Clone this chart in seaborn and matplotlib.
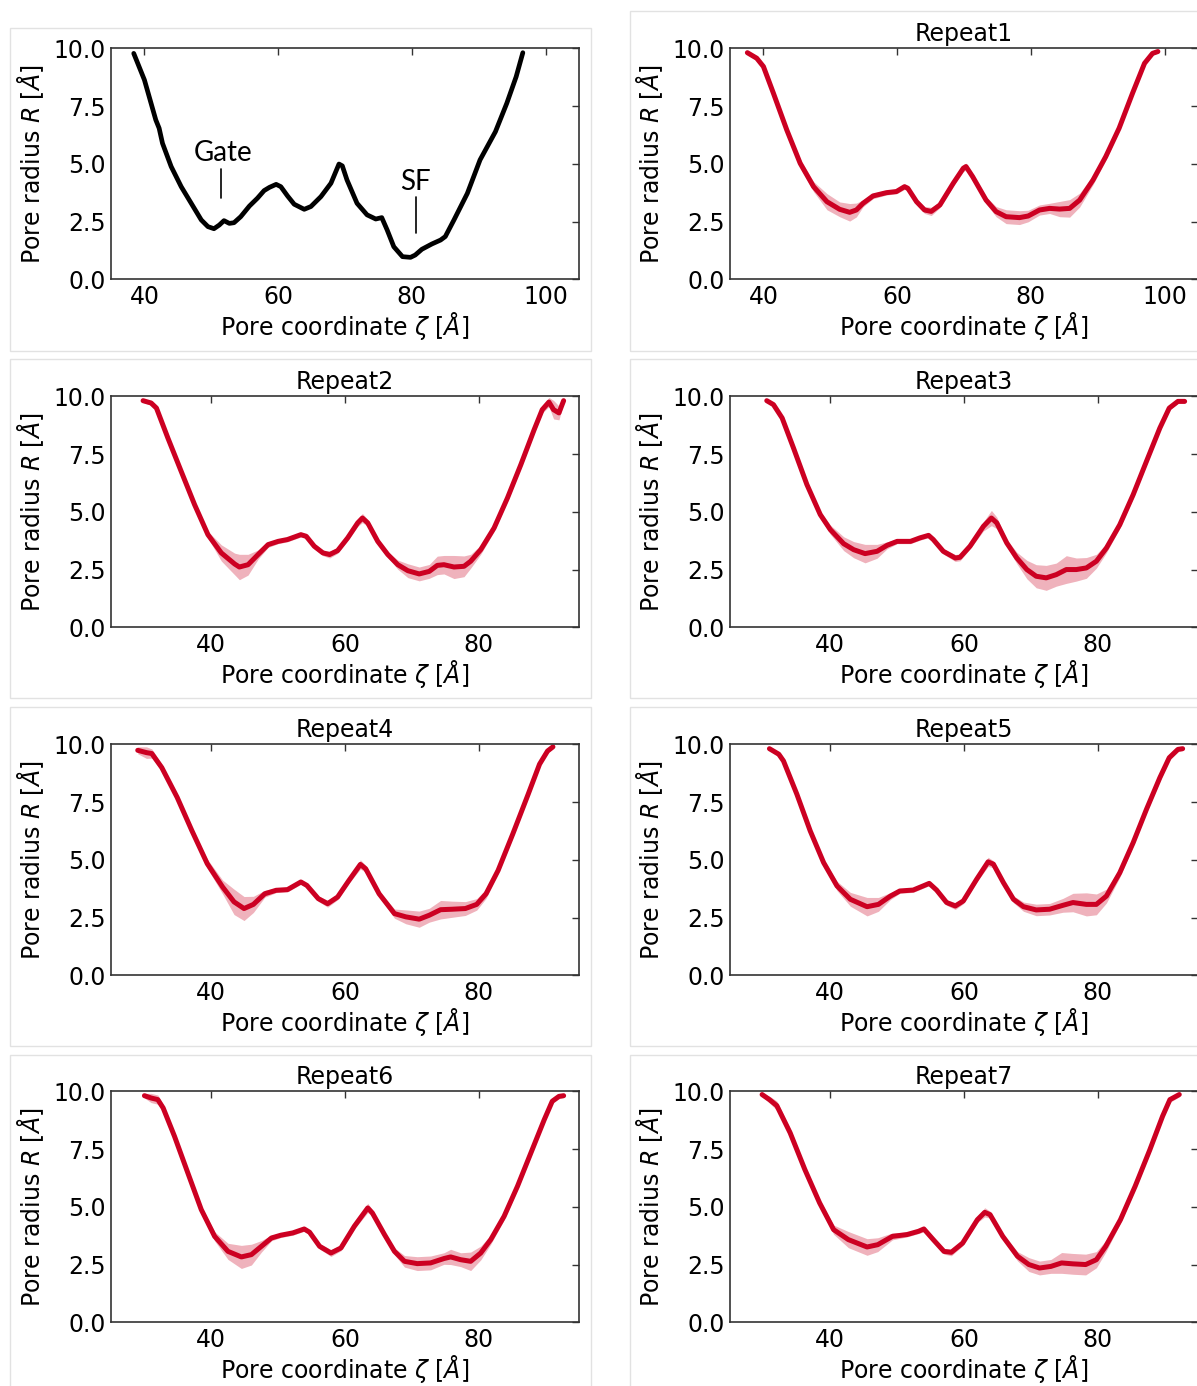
import numpy as np
import matplotlib
matplotlib.use("Agg")
import matplotlib.pyplot as plt
from matplotlib.patches import Rectangle
import seaborn as sns

# --- reference pore profile (black) ---
ref_z = [38.4, 40.0, 41.7, 42.2, 42.7, 44.0, 45.5, 47.0, 48.5, 49.5,
         50.4, 51.2, 51.9, 52.7, 53.4, 54.4, 55.7, 56.9, 57.9, 58.7,
         59.7, 60.4, 61.4, 62.4, 63.9, 64.9, 66.4, 67.9, 69.1, 69.6,
         70.3, 71.8, 73.3, 74.6, 75.5, 76.3, 77.3, 78.6, 79.8, 80.5,
         81.5, 83.0, 84.3, 85.0, 86.3, 88.3, 90.2, 92.5, 94.2, 95.6,
         96.6]
ref_r = [9.78, 8.63, 6.90, 6.54, 5.89, 4.88, 4.01, 3.29, 2.57, 2.28,
         2.19, 2.35, 2.54, 2.42, 2.45, 2.71, 3.17, 3.51, 3.84, 3.98,
         4.11, 4.01, 3.61, 3.25, 3.03, 3.15, 3.58, 4.16, 4.99, 4.91,
         4.30, 3.29, 2.79, 2.61, 2.67, 2.14, 1.41, 0.98, 0.95, 1.05,
         1.30, 1.53, 1.70, 1.85, 2.57, 3.72, 5.17, 6.39, 7.62, 8.77,
         9.81]

# --- repeats: mean radius and spread ---
rep1_z = [37.6, 39.0, 40.0, 41.5, 43.5, 45.5, 47.5, 49.5, 51.4, 52.9,
          53.9, 54.9, 56.4, 58.4, 59.9, 61.1, 61.6, 62.9, 64.1, 65.1,
          66.4, 68.4, 69.9, 70.3, 71.3, 73.3, 74.8, 76.3, 78.3, 79.6,
          81.3, 82.8, 84.3, 85.8, 87.3, 89.3, 91.2, 93.2, 95.2, 97.0,
          98.2, 99.0]
rep1_r = [9.81, 9.57, 9.21, 8.05, 6.46, 5.02, 4.01, 3.36, 3.03, 2.90,
          3.00, 3.29, 3.61, 3.75, 3.80, 4.01, 3.94, 3.36, 3.00, 2.94,
          3.22, 4.16, 4.81, 4.88, 4.44, 3.43, 2.93, 2.71, 2.67, 2.74,
          3.00, 3.07, 3.04, 3.07, 3.43, 4.30, 5.31, 6.54, 8.05, 9.35,
          9.78, 9.86]
rep1_err = [0.08, 0.10, 0.12, 0.15, 0.15, 0.18, 0.22, 0.35, 0.32, 0.38,
            0.30, 0.15, 0.12, 0.10, 0.10, 0.12, 0.12, 0.12, 0.15, 0.18,
            0.12, 0.12, 0.15, 0.15, 0.12, 0.15, 0.22, 0.30, 0.30, 0.25,
            0.22, 0.22, 0.33, 0.38, 0.30, 0.20, 0.15, 0.12, 0.12, 0.10,
            0.08, 0.06]

rep2_z = [29.8, 31.0, 31.8, 33.5, 35.5, 37.5, 39.5, 41.5, 43.5, 44.2,
          45.5, 47.0, 48.5, 50.0, 51.4, 53.4, 54.2, 55.4, 56.7, 57.7,
          58.9, 60.4, 61.9, 62.6, 63.4, 64.9, 66.4, 67.9, 69.4, 71.1,
          72.6, 73.8, 74.8, 76.3, 77.8, 78.8, 80.3, 82.3, 84.3, 86.3,
          88.3, 89.5, 90.5, 91.2, 92.0, 92.7]
rep2_r = [9.81, 9.71, 9.49, 8.20, 6.75, 5.31, 4.01, 3.22, 2.74, 2.61,
          2.71, 3.15, 3.58, 3.72, 3.80, 4.01, 3.94, 3.51, 3.22, 3.15,
          3.32, 3.87, 4.52, 4.73, 4.52, 3.72, 3.15, 2.71, 2.45, 2.31,
          2.42, 2.68, 2.71, 2.61, 2.64, 2.86, 3.36, 4.30, 5.60, 7.04,
          8.56, 9.42, 9.75, 9.42, 9.28, 9.81]
rep2_err = [0.08, 0.10, 0.12, 0.15, 0.15, 0.15, 0.15, 0.35, 0.47, 0.55,
            0.45, 0.20, 0.12, 0.10, 0.10, 0.10, 0.10, 0.12, 0.12, 0.15,
            0.12, 0.12, 0.15, 0.20, 0.15, 0.12, 0.12, 0.20, 0.30, 0.30,
            0.30, 0.40, 0.40, 0.50, 0.45, 0.30, 0.20, 0.15, 0.15, 0.15,
            0.15, 0.15, 0.20, 0.40, 0.30, 0.10]

rep3_z = [30.5, 31.5, 32.8, 34.5, 36.5, 38.5, 40.0, 42.0, 43.5, 45.2,
          47.0, 48.5, 50.0, 52.0, 53.4, 54.7, 55.4, 56.9, 58.7, 59.4,
          60.9, 62.9, 64.1, 64.9, 66.4, 67.9, 69.4, 70.8, 72.3, 73.8,
          75.3, 76.8, 78.3, 79.8, 81.3, 83.3, 85.3, 87.3, 89.3, 90.7,
          92.0, 93.0]
rep3_r = [9.81, 9.64, 9.06, 7.76, 6.18, 4.88, 4.23, 3.62, 3.36, 3.19,
          3.29, 3.55, 3.72, 3.72, 3.87, 3.98, 3.80, 3.29, 3.00, 3.03,
          3.51, 4.37, 4.73, 4.52, 3.65, 3.00, 2.50, 2.21, 2.14, 2.28,
          2.50, 2.50, 2.57, 2.86, 3.43, 4.44, 5.74, 7.19, 8.63, 9.49,
          9.78, 9.78]
rep3_err = [0.08, 0.10, 0.12, 0.15, 0.15, 0.15, 0.20, 0.30, 0.35, 0.40,
            0.30, 0.15, 0.10, 0.10, 0.10, 0.10, 0.10, 0.12, 0.15, 0.15,
            0.12, 0.20, 0.33, 0.25, 0.15, 0.25, 0.40, 0.50, 0.54, 0.50,
            0.60, 0.50, 0.45, 0.30, 0.20, 0.15, 0.15, 0.15, 0.12, 0.10,
            0.08, 0.08]

rep4_z = [29.0, 30.3, 31.1, 32.6, 34.9, 37.1, 39.4, 41.7, 43.4, 44.9,
          46.3, 48.0, 49.7, 51.4, 53.4, 54.3, 56.0, 57.4, 58.9, 60.6,
          62.3, 63.1, 65.1, 67.4, 69.1, 71.1, 72.6, 74.3, 76.0, 78.0,
          79.7, 81.1, 82.9, 85.1, 87.4, 89.1, 90.3, 91.1]
rep4_r = [9.74, 9.64, 9.60, 8.99, 7.70, 6.26, 4.83, 3.82, 3.18, 2.89,
          3.07, 3.53, 3.68, 3.71, 4.04, 3.89, 3.32, 3.10, 3.39, 4.11,
          4.80, 4.61, 3.53, 2.67, 2.53, 2.43, 2.60, 2.84, 2.86, 2.89,
          3.07, 3.53, 4.54, 6.12, 7.84, 9.14, 9.71, 9.89]
rep4_err = [0.15, 0.25, 0.20, 0.15, 0.15, 0.15, 0.20, 0.30, 0.55, 0.52,
            0.35, 0.15, 0.10, 0.10, 0.10, 0.10, 0.12, 0.15, 0.12, 0.12,
            0.20, 0.15, 0.12, 0.20, 0.30, 0.35, 0.30, 0.40, 0.35, 0.30,
            0.25, 0.20, 0.15, 0.15, 0.15, 0.12, 0.10, 0.08]

rep5_z = [30.9, 32.3, 33.0, 35.0, 37.0, 39.0, 41.0, 43.0, 45.5, 47.2,
          49.0, 50.4, 52.4, 53.9, 54.8, 55.9, 57.4, 58.7, 59.9, 61.9,
          63.6, 64.4, 65.9, 67.4, 68.9, 70.8, 72.8, 74.8, 76.3, 78.3,
          79.8, 81.3, 83.3, 85.3, 87.3, 89.3, 90.7, 92.0, 92.7]
rep5_r = [9.81, 9.57, 9.28, 7.84, 6.25, 4.88, 3.87, 3.29, 2.97, 3.07,
          3.43, 3.65, 3.69, 3.87, 3.98, 3.69, 3.15, 3.00, 3.22, 4.16,
          4.91, 4.81, 4.01, 3.29, 2.97, 2.83, 2.86, 3.03, 3.15, 3.07,
          3.07, 3.43, 4.44, 5.74, 7.19, 8.56, 9.42, 9.78, 9.81]
rep5_err = [0.08, 0.12, 0.15, 0.15, 0.15, 0.15, 0.20, 0.30, 0.40, 0.30,
            0.15, 0.10, 0.10, 0.10, 0.10, 0.10, 0.12, 0.15, 0.12, 0.12,
            0.20, 0.15, 0.12, 0.15, 0.20, 0.25, 0.25, 0.30, 0.40, 0.50,
            0.45, 0.30, 0.20, 0.15, 0.15, 0.15, 0.12, 0.10, 0.08]

rep6_z = [30.0, 31.0, 32.0, 32.8, 34.5, 36.5, 38.5, 40.5, 42.5, 44.5,
          46.0, 47.5, 49.0, 50.4, 52.2, 53.9, 54.7, 56.2, 57.9, 59.4,
          61.4, 63.4, 64.1, 65.9, 67.4, 68.9, 70.8, 72.8, 74.8, 75.8,
          77.3, 78.8, 80.3, 81.8, 83.8, 85.8, 87.8, 89.8, 91.0, 92.0,
          92.7]
rep6_r = [9.81, 9.71, 9.64, 9.28, 8.05, 6.46, 4.88, 3.72, 3.07, 2.83,
          2.93, 3.29, 3.65, 3.77, 3.87, 4.04, 3.90, 3.29, 3.00, 3.22,
          4.16, 4.95, 4.73, 3.80, 3.07, 2.64, 2.54, 2.57, 2.76, 2.83,
          2.71, 2.64, 3.00, 3.58, 4.59, 5.89, 7.33, 8.77, 9.57, 9.78,
          9.81]
rep6_err = [0.10, 0.20, 0.20, 0.15, 0.15, 0.15, 0.15, 0.20, 0.35, 0.50,
            0.45, 0.25, 0.12, 0.10, 0.10, 0.10, 0.10, 0.12, 0.15, 0.12,
            0.12, 0.20, 0.15, 0.12, 0.15, 0.25, 0.30, 0.30, 0.25, 0.33,
            0.30, 0.40, 0.30, 0.20, 0.15, 0.15, 0.15, 0.12, 0.10, 0.10,
            0.08]

rep7_z = [29.8, 30.9, 32.0, 34.0, 36.2, 38.4, 40.5, 42.7, 45.5, 47.1,
          49.3, 51.5, 53.2, 54.0, 55.4, 57.0, 58.1, 59.8, 62.0, 63.1,
          63.9, 65.8, 68.0, 69.7, 71.3, 73.0, 74.6, 76.3, 78.2, 79.8,
          81.2, 83.4, 85.6, 87.8, 89.7, 90.8, 92.2]
rep7_r = [9.86, 9.64, 9.38, 8.20, 6.61, 5.17, 4.01, 3.58, 3.26, 3.36,
          3.72, 3.80, 3.94, 4.04, 3.58, 3.07, 3.03, 3.43, 4.44, 4.76,
          4.66, 3.72, 2.86, 2.50, 2.35, 2.42, 2.57, 2.53, 2.50, 2.71,
          3.29, 4.44, 5.89, 7.47, 8.92, 9.64, 9.86]
rep7_err = [0.08, 0.15, 0.20, 0.20, 0.15, 0.15, 0.20, 0.35, 0.36, 0.30,
            0.15, 0.10, 0.10, 0.12, 0.10, 0.12, 0.15, 0.12, 0.12, 0.20,
            0.15, 0.12, 0.20, 0.30, 0.30, 0.30, 0.45, 0.45, 0.45, 0.35,
            0.25, 0.15, 0.15, 0.15, 0.12, 0.12, 0.10]

repeats = [
    ("Repeat1", rep1_z, rep1_r, rep1_err),
    ("Repeat2", rep2_z, rep2_r, rep2_err),
    ("Repeat3", rep3_z, rep3_r, rep3_err),
    ("Repeat4", rep4_z, rep4_r, rep4_err),
    ("Repeat5", rep5_z, rep5_r, rep5_err),
    ("Repeat6", rep6_z, rep6_r, rep6_err),
    ("Repeat7", rep7_z, rep7_r, rep7_err),
]

# --- style ---
sns.set_style("white")
plt.rcParams['font.family'] = ['DejaVu Sans']
plt.rcParams['mathtext.fontset'] = 'dejavusans'
plt.rcParams['text.color'] = 'black'
plt.rcParams['axes.labelcolor'] = 'black'
plt.rcParams['lines.solid_joinstyle'] = 'round'
plt.rcParams['lines.solid_capstyle'] = 'round'
RED = '#cc0022'
FS = 17

W, H = 1197, 1386
fig = plt.figure(figsize=(W / 100, H / 100), dpi=100)

# panel frames (light gray boxes around each sub-figure)
boxes = [(10, 28, 581, 323), (630, 11, 600, 340),
         (10, 359, 581, 339), (630, 359, 600, 339),
         (10, 707, 581, 339), (630, 707, 600, 339),
         (10, 1055, 581, 340), (630, 1055, 600, 340)]
for bx, by, bw, bh in boxes:
    fig.add_artist(Rectangle((bx / W, 1 - (by + bh) / H), bw / W, bh / H,
                             transform=fig.transFigure, fill=False,
                             ec='#e2e2e2', lw=1.0))


def make_axes(left, top, width=468, height=231):
    return fig.add_axes([left / W, 1 - (top + height) / H, width / W, height / H])


def style_axes(ax, xlim):
    ax.set_xlim(*xlim)
    ax.set_ylim(0, 10)
    ax.set_yticks([0, 2.5, 5, 7.5, 10])
    ax.set_xticks([t for t in [40, 60, 80, 100] if xlim[0] < t < xlim[1]])
    ax.tick_params(direction='in', top=True, right=True, length=5, width=1,
                   labelsize=FS, pad=4, colors='#333333', labelcolor='black')
    for s in ax.spines.values():
        s.set_color('#333333')
        s.set_linewidth(1.2)
    ax.set_xlabel(r'Pore coordinate $\zeta$ [$\AA$]', fontsize=FS, labelpad=1,
                  color='black')
    ax.set_ylabel(r'Pore radius $R$ [$\AA$]', fontsize=FS, labelpad=5,
                  color='black')


col_left = [111, 730]
row_top = [48.3, 396.3, 744.3, 1091.3]

# reference panel
ax = make_axes(col_left[0], row_top[0])
sns.lineplot(x=ref_z, y=ref_r, ax=ax, color='black', lw=3.4,
             sort=False, estimator=None)
style_axes(ax, (35, 105))
ax.text(51.7, 5.45, 'Gate', ha='center', va='center', fontsize=20, family='Lato')
ax.plot([51.5, 51.5], [3.51, 4.76], color='black', lw=1.2)
ax.text(80.5, 4.2, 'SF', ha='center', va='center', fontsize=20, family='Lato')
ax.plot([80.6, 80.6], [1.99, 3.58], color='black', lw=1.2)

# repeat panels
slots = [(1, 0), (0, 1), (1, 1), (0, 2), (1, 2), (0, 3), (1, 3)]
for (name, z, r, err), (c, rr) in zip(repeats, slots):
    ax = make_axes(col_left[c], row_top[rr])
    z = np.array(z); r = np.array(r); err = np.array(err)
    ax.fill_between(z, r - err, r + err, color=RED, alpha=0.3, lw=0)
    sns.lineplot(x=z, y=r, ax=ax, color=RED, lw=3.6, sort=False, estimator=None)
    style_axes(ax, (35, 105) if name == "Repeat1" else (25, 95))
    ax.set_title(name, fontsize=FS, pad=5, color='black')

fig.savefig('out.png', dpi=100)
